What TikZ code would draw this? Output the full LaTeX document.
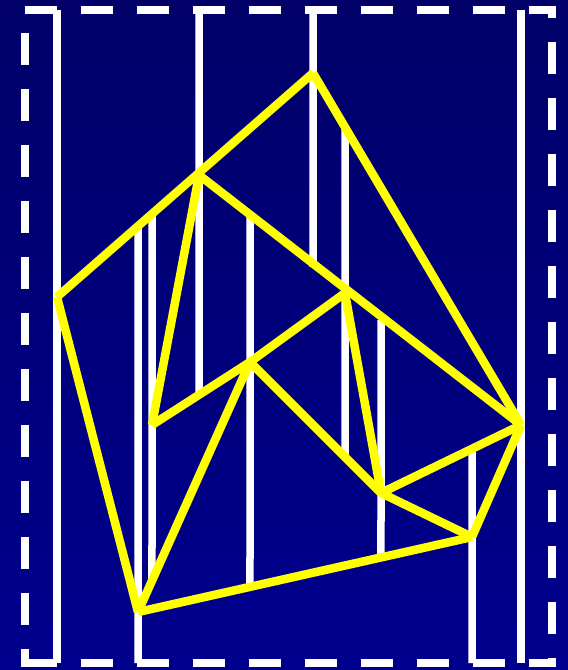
\documentclass[tikz,border=0pt]{standalone}
\usetikzlibrary{calc}
\definecolor{bgtop}{RGB}{0,0,104}
\definecolor{bgbot}{RGB}{0,0,142}
\definecolor{tri}{RGB}{255,255,0}
\begin{document}
\begin{tikzpicture}[x=1pt,y=-1pt,
  frame/.style={white,line width=7.5pt,line cap=rect,dash pattern=on 24.5pt off 31.5pt},
  vert/.style={white,line width=7.5pt},
  edge/.style={tri,line width=8.5pt}]
\useasboundingbox (0,0) rectangle (568,670);
\shade[top color=bgtop,bottom color=bgbot] (0,0) rectangle (568,670);
% frame corners
\coordinate (tl) at (25,10);
\coordinate (tr) at (552,10);
\coordinate (br) at (552,663);
\coordinate (bl) at (25,663);
\coordinate (top) at (0,10);
\coordinate (bot) at (0,663);
% vertices
\coordinate (A) at (313,73);
\coordinate (B) at (199,175);
\coordinate (C) at (57,297);
\coordinate (D) at (345,293);
\coordinate (E) at (250,362);
\coordinate (F) at (152,425);
\coordinate (G) at (521,425);
\coordinate (H) at (381,493);
\coordinate (I) at (472,537);
\coordinate (J) at (138,612);
\foreach \v in {A,B,C,D,E,F,G,H,I,J} {\coordinate (\v u) at ($(\v)+(0,-10)$);}
% frame
\draw[frame,dash phase=52.25pt] (tl) -- (tr);
\draw[frame,dash phase=20.25pt] (tr) -- (br);
\draw[frame,dash phase=29.25pt] (tl) -- (bl);
\draw[frame,dash phase=52.25pt] (bl) -- (br);
% vertical extensions
\draw[vert] (C |- top) -- (C |- bot);
\draw[vert] (intersection of C--B and J--Ju) -- (J |- bot);
\draw[vert] (intersection of C--B and F--Fu) -- (intersection of E--J and F--Fu);
\draw[vert] (B |- top) -- (intersection of F--E and B--Bu);
\draw[vert] (intersection of B--D and E--Eu) -- (intersection of J--I and E--Eu);
\draw[vert] (A |- top) -- (intersection of B--D and A--Au);
\draw[vert] (intersection of A--G and D--Du) -- (intersection of E--H and D--Du);
\draw[vert] (intersection of D--G and H--Hu) -- (intersection of J--I and H--Hu);
\draw[vert] (intersection of H--G and I--Iu) -- (I |- bot);
\draw[vert] (G |- top) -- (G |- bot);
% triangulation
\draw[edge] (C) -- (A);
\draw[edge] (A) -- (G);
\draw[edge] (G) -- (I);
\draw[edge] (I) -- (J);
\draw[edge] (J) -- (C);
\draw[edge] (B) -- (G);
\draw[edge] (B) -- (F);
\draw[edge] (F) -- (E);
\draw[edge] (E) -- (D);
\draw[edge] (E) -- (J);
\draw[edge] (E) -- (H);
\draw[edge] (D) -- (H);
\draw[edge] (H) -- (G);
\draw[edge] (H) -- (I);
\end{tikzpicture}
\end{document}
